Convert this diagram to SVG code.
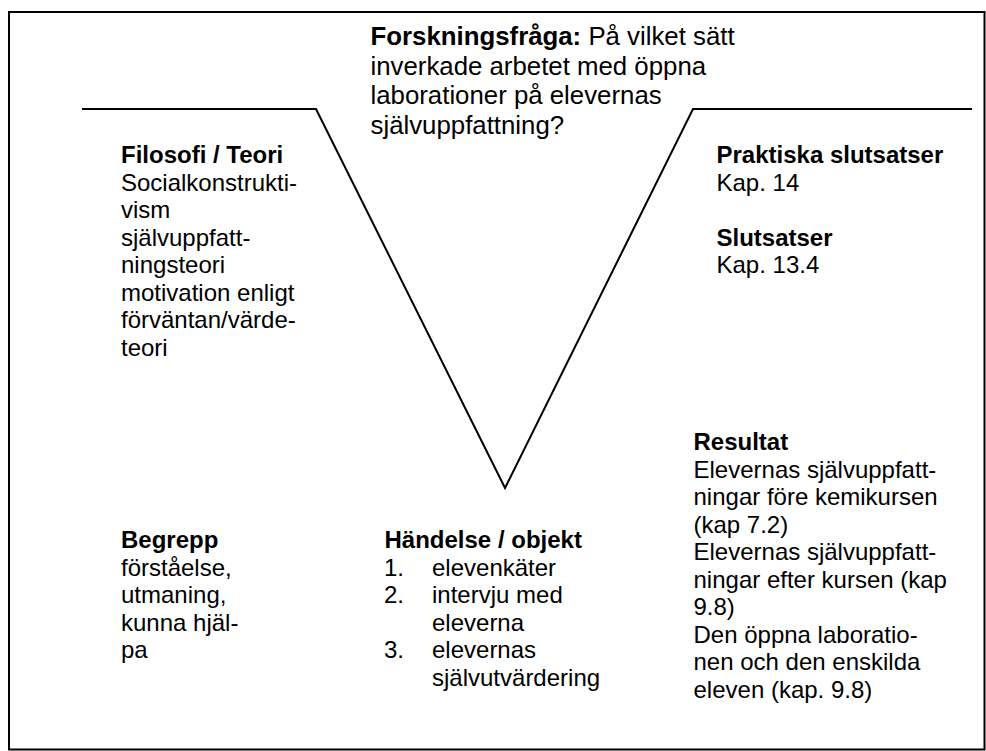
<svg xmlns="http://www.w3.org/2000/svg" width="986" height="751" viewBox="0 0 986 751">
  <style>
    text { font-family: "Liberation Sans", Arial, sans-serif; fill: #000; }
    .body { font-size: 24px; }
    .q { font-size: 25.8px; }
    .b { font-weight: bold; }
    .frame { fill: none; stroke: #000; stroke-width: 2; }
    .vee { fill: none; stroke: #000; stroke-width: 2; stroke-linejoin: miter; }
  </style>
  <rect width="986" height="751" fill="#fff"/>
  <rect class="frame" x="9" y="12" width="975.5" height="737.5"/>

  <g id="connectors">
    <polyline class="vee" points="82,109 316,109 505,488 693,109 972,109"/>
  </g>

  <g id="question">
    <text class="q" x="370.5" y="45"><tspan class="b">Forskningsfråga:</tspan> På vilket sätt</text>
    <text class="q" x="370.5" y="74.5">inverkade arbetet med öppna</text>
    <text class="q" x="370.5" y="104">laborationer på elevernas</text>
    <text class="q" x="370.5" y="133.5">självuppfattning?</text>
  </g>

  <g id="theory">
    <text class="body b" x="121" y="163">Filosofi / Teori</text>
    <text class="body" x="121" y="190.5">Socialkonstrukti-</text>
    <text class="body" x="121" y="218">vism</text>
    <text class="body" x="121" y="245.5">självuppfatt-</text>
    <text class="body" x="121" y="273">ningsteori</text>
    <text class="body" x="121" y="300.5">motivation enligt</text>
    <text class="body" x="121" y="328">förväntan/värde-</text>
    <text class="body" x="121" y="355.5">teori</text>
  </g>

  <g id="conclusions">
    <text class="body b" x="716.5" y="163">Praktiska slutsatser</text>
    <text class="body" x="716.5" y="190.5">Kap. 14</text>
    <text class="body b" x="716.5" y="245.5">Slutsatser</text>
    <text class="body" x="716.5" y="273">Kap. 13.4</text>
  </g>

  <g id="concepts">
    <text class="body b" x="121" y="548">Begrepp</text>
    <text class="body" x="121" y="575.5">förståelse,</text>
    <text class="body" x="121" y="603">utmaning,</text>
    <text class="body" x="121" y="630.5">kunna hjäl-</text>
    <text class="body" x="121" y="658">pa</text>
  </g>

  <g id="events">
    <text class="body b" x="384.5" y="548">Händelse / objekt</text>
    <text class="body" x="384" y="575.5">1.</text>
    <text class="body" x="432" y="575.5">elevenkäter</text>
    <text class="body" x="384" y="603">2.</text>
    <text class="body" x="432" y="603">intervju med</text>
    <text class="body" x="432" y="630.5">eleverna</text>
    <text class="body" x="384" y="658">3.</text>
    <text class="body" x="432" y="658">elevernas</text>
    <text class="body" x="432" y="685.5">självutvärdering</text>
  </g>

  <g id="results">
    <text class="body b" x="693.5" y="450">Resultat</text>
    <text class="body" x="693.5" y="477.5">Elevernas självuppfatt-</text>
    <text class="body" x="693.5" y="505">ningar före kemikursen</text>
    <text class="body" x="693.5" y="532.5">(kap 7.2)</text>
    <text class="body" x="693.5" y="560">Elevernas självuppfatt-</text>
    <text class="body" x="693.5" y="587.5">ningar efter kursen (kap</text>
    <text class="body" x="693.5" y="615">9.8)</text>
    <text class="body" x="693.5" y="642.5">Den öppna laboratio-</text>
    <text class="body" x="693.5" y="670">nen och den enskilda</text>
    <text class="body" x="693.5" y="697.5">eleven (kap. 9.8)</text>
  </g>
</svg>
